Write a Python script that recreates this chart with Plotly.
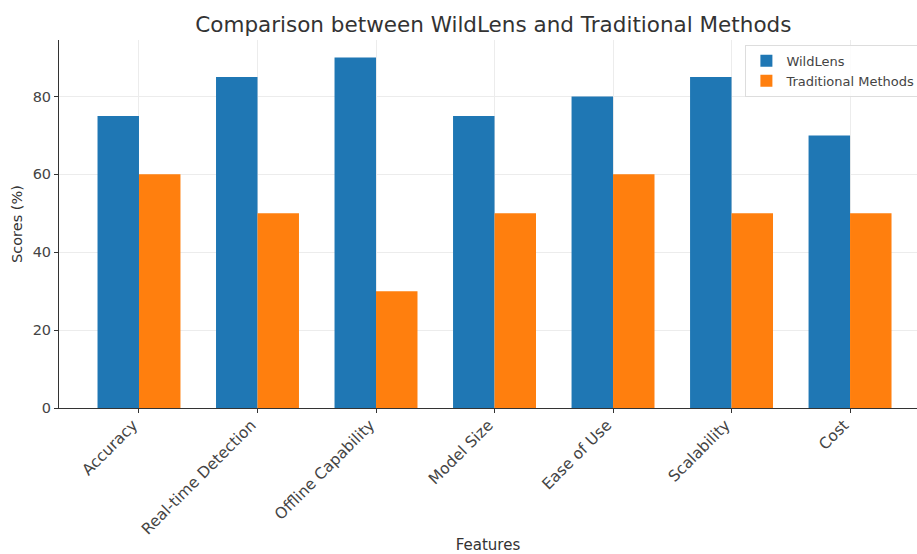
import plotly.graph_objects as go

features = ["Accuracy", "Real-time Detection", "Offline Capability", "Model Size",
            "Ease of Use", "Scalability", "Cost"]
wildlens = [75, 85, 90, 75, 80, 85, 70]
traditional = [60, 50, 30, 50, 60, 50, 50]

font_family = "DejaVu Sans, sans-serif"
text_color = "#444444"

fig = go.Figure()
fig.add_trace(go.Bar(x=features, y=wildlens, name="WildLens",
                     marker=dict(color="#1f77b4", line=dict(width=0))))
fig.add_trace(go.Bar(x=features, y=traditional, name="Traditional Methods",
                     marker=dict(color="#ff7f0e", line=dict(width=0))))

fig.update_layout(
    width=917, height=554,
    margin=dict(l=59, r=0, t=40, b=146, autoexpand=False),
    paper_bgcolor="white", plot_bgcolor="white",
    barmode="group", bargap=0.3, bargroupgap=0,
    font=dict(family=font_family, color=text_color, size=14),
    title=dict(text="Comparison between WildLens and Traditional Methods",
               x=0.538, xanchor="center", y=0.955, yanchor="middle",
               font=dict(size=21.5, color="#333333")),
    legend=dict(x=0.8, y=0.987, xanchor="left", yanchor="top",
                bgcolor="rgba(255,255,255,0.85)", bordercolor="#dddddd", borderwidth=1,
                font=dict(size=13, color="#444444"), itemwidth=30,
                tracegroupgap=0),
    showlegend=True,
)

fig.update_xaxes(
    range=[-0.675, 6.565], tickangle=-45,
    showgrid=True, gridcolor="#ececec", gridwidth=1,
    showline=True, linecolor="#333333", linewidth=1,
    ticks="outside", ticklen=4, tickcolor="#333333",
    tickfont=dict(size=15.5, color=text_color),
    ticklabelshift=-6, ticklabelstandoff=-3,
    title=dict(text="Features", font=dict(size=15, color="#333333"), standoff=6),
)
fig.update_yaxes(
    range=[0, 94.5], tickvals=[0, 20, 40, 60, 80],
    showgrid=True, gridcolor="#ececec", gridwidth=1,
    showline=True, linecolor="#333333", linewidth=1,
    ticks="outside", ticklen=4, tickcolor="#333333",
    tickfont=dict(size=14.5, color=text_color),
    zeroline=False,
    title=dict(text="Scores (%)", font=dict(size=14.5, color="#333333"), standoff=6),
)

fig.write_html("out.html")
